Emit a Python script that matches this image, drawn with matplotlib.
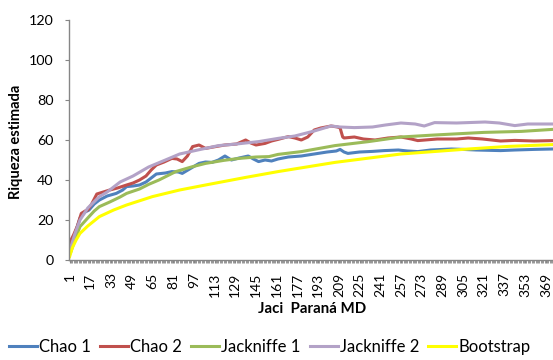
import matplotlib
matplotlib.use('Agg')
import matplotlib.pyplot as plt
from matplotlib.ticker import MultipleLocator

plt.rcParams['font.family'] = ['Lato', 'DejaVu Sans']

n_samples = 374

# sample index / estimated richness for each estimator
chao1_x = [1, 2, 5, 9, 13, 16, 20, 24, 30, 37, 42, 45, 50, 55, 60, 64, 68, 75, 80, 85,
           88, 95, 101, 106, 111, 116, 121, 126, 132, 139, 143, 147, 152, 157, 162, 170,
           180, 190, 200, 207, 210, 213, 216, 225, 235, 244, 255, 262, 270, 280, 296,
           305, 315, 334, 345, 360, 374]
chao1_y = [3, 7, 13, 21, 24, 25, 28, 30, 32, 33.3, 35, 36.7, 37, 37.5, 39, 41, 43, 43.5,
           44.2, 44, 43.3, 46, 48.3, 49, 48.8, 50, 52, 50, 51, 52, 50.5, 49.2, 50, 49.5,
           50.5, 51.5, 52, 53, 54, 54.5, 55.3, 54, 53.3, 54, 54.3, 54.7, 55, 54.5, 54.2,
           55, 55.5, 55.3, 55, 54.7, 55, 55.3, 55.5]

chao2_x = [1, 2, 4, 7, 10, 13, 15, 18, 22, 27, 32, 38, 45, 50, 55, 60, 64, 68, 74, 80,
           84, 88, 92, 96, 101, 106, 112, 121, 130, 137, 141, 145, 152, 157, 162, 170,
           175, 180, 185, 190, 195, 203, 208, 210, 212, 213, 221, 228, 237, 247, 257,
           265, 270, 285, 300, 309, 320, 334, 345, 360, 374]
chao2_y = [4, 10, 12.5, 17, 23.3, 24.5, 25, 28, 33, 34, 35, 36, 37.5, 38.5, 40, 42, 45,
           47.5, 49, 50.8, 50.5, 49.2, 52, 56.7, 57.5, 55.8, 56.5, 57.5, 58, 60, 58.5,
           57.5, 58.3, 59.5, 60.3, 61.7, 61, 60, 61.5, 65, 66, 67, 66.5, 66, 61.5, 61,
           61.5, 60.5, 60, 61, 61.5, 60.5, 59.7, 60.5, 60.5, 61, 60.5, 59.5, 59.8, 59.5,
           59.7]

jack1_x = [1, 2, 5, 9, 15, 20, 24, 32, 40, 45, 55, 62, 70, 83, 95, 106, 120, 132, 145,
           155, 162, 180, 206, 232, 257, 283, 321, 350, 374]
jack1_y = [3, 4.2, 10, 16.7, 21, 24.5, 26.7, 29, 31.5, 33.3, 35.5, 37.8, 40, 44.2, 46.5,
           48.3, 49.8, 50.8, 51.5, 51.7, 52.8, 54.2, 57.2, 59.2, 61.5, 62.5, 63.8, 64.3,
           65.3]

jack2_x = [1, 2, 5, 9, 15, 24, 30, 40, 50, 62, 75, 86, 100, 116, 130, 147, 162, 175,
           190, 203, 210, 221, 235, 245, 257, 268, 275, 283, 300, 322, 333, 345, 355, 374]
jack2_y = [4, 6.7, 13, 20, 26, 31.7, 34, 39, 42, 46.5, 50, 53, 55, 57.2, 58, 59.2, 60.8,
           62, 64.5, 67, 66.5, 66.2, 66.5, 67.5, 68.5, 68, 67, 68.7, 68.5, 69, 68.5, 67.2,
           68, 68]

boot_x = [1, 3, 6, 9, 15, 24, 35, 45, 65, 86, 106, 137, 162, 206, 257, 309, 340, 374]
boot_y = [1.7, 6, 10, 13.3, 17, 21.7, 25, 27.5, 31.7, 35, 37.5, 41.3, 44.2, 48.8, 53,
          55.5, 56.8, 57.7]

tick_pos = list(range(1, 370, 16))

fig = plt.figure(figsize=(5.53, 3.60), dpi=100)
ax = fig.add_axes([69/553, 100/360, 484/553, 240/360])

ax.plot(chao1_x, chao1_y, color='#4F81BD', lw=2.2, label='Chao 1')
ax.plot(chao2_x, chao2_y, color='#C0504D', lw=2.2, label='Chao 2')
ax.plot(jack1_x, jack1_y, color='#9BBB59', lw=2.2, label='Jackniffe 1')
ax.plot(jack2_x, jack2_y, color='#B3A2C7', lw=2.2, label='Jackniffe 2')
ax.plot(boot_x, boot_y, color='#FFFF00', lw=2.2, label='Bootstrap')

ax.set_xlim(0.5, n_samples + 0.5)
ax.set_ylim(0, 120)
ax.set_yticks(range(0, 121, 20))
ax.set_xticks(tick_pos)
ax.set_xticklabels([str(t) for t in tick_pos], rotation=90)
ax.xaxis.set_minor_locator(MultipleLocator(1))

for s in ['top', 'right']:
    ax.spines[s].set_visible(False)
for s in ['left', 'bottom']:
    ax.spines[s].set_color('#868686')
    ax.spines[s].set_linewidth(1)

ax.tick_params(axis='y', length=3, color='#868686', labelsize=10.3, pad=8)
ax.tick_params(axis='x', which='both', length=2.5, color='#868686', labelsize=10,
               pad=6.5)

fig.text(0.029, 0.606, 'Riqueza estimada', rotation=90, fontsize=10.5,
         fontweight='bold', ha='center', va='center')
fig.text(0.564, 0.142, 'Jaci  Paraná MD', fontsize=10.8, fontweight='bold',
         ha='center', va='center')

fig.legend(loc='center', bbox_to_anchor=(0.488, 0.036), ncol=5, frameon=False,
           fontsize=12, handlelength=1.68, handletextpad=0.12, columnspacing=0.55)

plt.savefig('out.png', dpi=100)
